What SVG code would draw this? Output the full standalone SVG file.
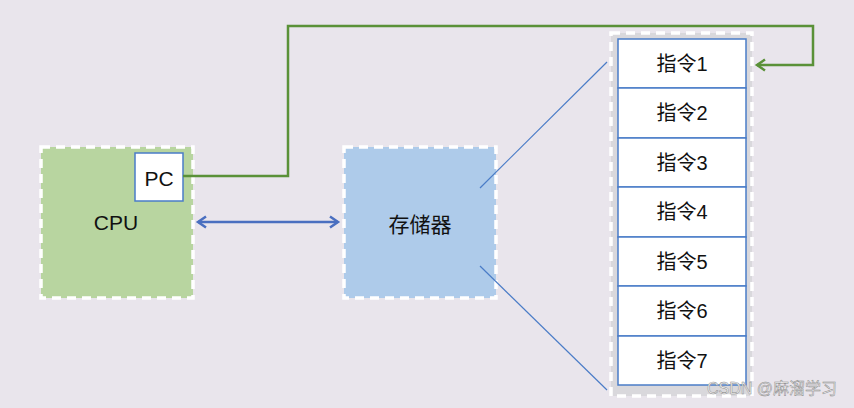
<svg xmlns="http://www.w3.org/2000/svg" width="854" height="408" viewBox="0 0 854 408">
<defs>
<style>
.dash{stroke:#ffffff;stroke-width:3.5;stroke-dasharray:9 6;}
.lbl{font-family:"Liberation Sans","Noto Sans CJK SC",sans-serif;fill:#111;text-anchor:middle;dominant-baseline:central;}
.ins rect{fill:#ffffff;stroke:#4a7cc7;stroke-width:1.5;}
.ins text{font-size:20px;}
</style>
<marker id="ag" markerWidth="14" markerHeight="14" refX="11" refY="7" orient="auto" markerUnits="userSpaceOnUse">
<path d="M3,1.5 L11,7 L3,12.5" fill="none" stroke="#5a9138" stroke-width="2.5"/>
</marker>
<marker id="ab" markerWidth="14" markerHeight="14" refX="11" refY="7" orient="auto-start-reverse" markerUnits="userSpaceOnUse">
<path d="M3,1.5 L11,7 L3,12.5" fill="none" stroke="#4a6fc0" stroke-width="2.5"/>
</marker>
</defs>
<rect width="854" height="408" fill="#e9e5ec"/>
<g id="cpu">
<rect x="41" y="147" width="152" height="151" fill="#b8d5a0" class="dash"/>
<text class="lbl" x="116" y="222" font-size="21">CPU</text>
</g>
<g id="pc">
<rect x="135" y="153" width="48" height="48" fill="#ffffff" stroke="#4a7cc7" stroke-width="1.5"/>
<text class="lbl" x="159" y="178" font-size="21">PC</text>
</g>
<g id="memory">
<rect x="344" y="147" width="152" height="151" fill="#aecbea" class="dash"/>
<text class="lbl" x="420" y="224" font-size="21">存储器</text>
</g>
<g id="instructions">
<rect x="611" y="33" width="141" height="363" fill="#d9d8dc" class="dash"/>
<g class="ins">
<rect x="618" y="39" width="128" height="49"/><text class="lbl" x="682" y="64">指令1</text>
<rect x="618" y="88" width="128" height="50"/><text class="lbl" x="682" y="113">指令2</text>
<rect x="618" y="138" width="128" height="49"/><text class="lbl" x="682" y="163">指令3</text>
<rect x="618" y="187" width="128" height="50"/><text class="lbl" x="682" y="212">指令4</text>
<rect x="618" y="237" width="128" height="49"/><text class="lbl" x="682" y="262">指令5</text>
<rect x="618" y="286" width="128" height="50"/><text class="lbl" x="682" y="311">指令6</text>
<rect x="618" y="336" width="128" height="49"/><text class="lbl" x="682" y="361">指令7</text>
</g>
</g>
<g id="connectors" fill="none">
<path d="M183,176 H288 V26 H813 V65 H757" stroke="#5a9138" stroke-width="2.5" marker-end="url(#ag)"/>
<line x1="198" y1="222" x2="338" y2="222" stroke="#4a6fc0" stroke-width="2.5" marker-start="url(#ab)" marker-end="url(#ab)"/>
<line x1="480" y1="188" x2="607" y2="62" stroke="#4a7cc7" stroke-width="1.2"/>
<line x1="480" y1="266" x2="607" y2="390" stroke="#4a7cc7" stroke-width="1.2"/>
</g>
<text x="772" y="388" font-family="'Liberation Sans','Noto Sans CJK SC',sans-serif" font-size="16" fill="#f6f6f6" stroke="#8a8a8a" stroke-width="0.5" text-anchor="middle" dominant-baseline="central">CSDN @麻溜学习</text>
</svg>
